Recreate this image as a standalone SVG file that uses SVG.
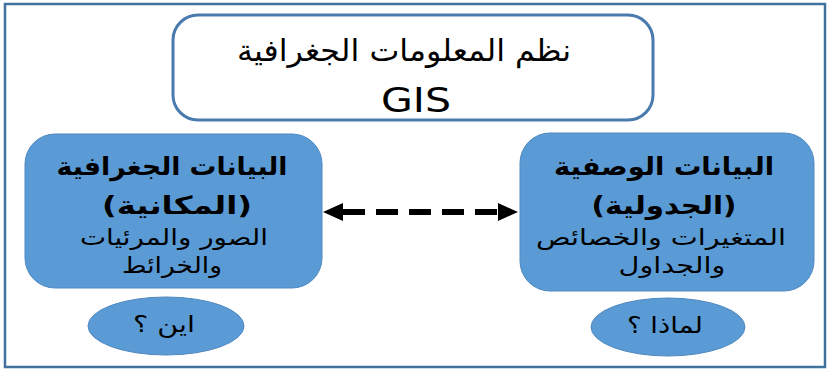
<svg xmlns="http://www.w3.org/2000/svg" width="829" height="371" viewBox="0 0 829 371">
<style>
.ar{font-family:"DejaVu Sans","Noto Sans",sans-serif;fill:#000;text-anchor:middle;direction:rtl}
.b{font-weight:bold}
.shape{fill:#5B9BD5;stroke:#5088C0;stroke-width:1}
</style>
<defs>
<marker id="ah" viewBox="0 0 20 18" refX="10" refY="9" markerWidth="20" markerHeight="18" orient="auto-start-reverse" markerUnits="userSpaceOnUse">
<path d="M0,0 L20,9 L0,18 z" fill="#000"/>
</marker>
</defs>
<rect x="0" y="0" width="829" height="371" fill="#fff"/>
<rect x="5" y="4" width="820" height="363" fill="none" stroke="#41719C" stroke-width="2.5"/>
<g id="title">
<rect x="173" y="15" width="480" height="105" rx="25" ry="25" fill="#fff" stroke="#4A7AAE" stroke-width="3"/>
<text class="ar" x="404" y="61" font-size="30" textLength="334" lengthAdjust="spacingAndGlyphs">نظم المعلومات الجغرافية</text>
<text x="416" y="112" font-size="34" font-family="DejaVu Sans, sans-serif" text-anchor="middle" textLength="70" lengthAdjust="spacingAndGlyphs">GIS</text>
</g>
<g id="spatial">
<rect class="shape" x="25" y="134" width="297" height="154" rx="30" ry="30"/>
<text class="ar b" x="172" y="175" font-size="25" textLength="231" lengthAdjust="spacingAndGlyphs">البيانات الجغرافية</text>
<text class="ar b" x="177" y="214" font-size="25" textLength="150" lengthAdjust="spacingAndGlyphs">(المكانية)</text>
<text class="ar" x="174" y="245" font-size="22" textLength="188" lengthAdjust="spacingAndGlyphs">الصور والمرئيات</text>
<text class="ar" x="172" y="273" font-size="22" textLength="100" lengthAdjust="spacingAndGlyphs">والخرائط</text>
</g>
<g id="attribute">
<rect class="shape" x="520" y="133" width="294" height="158" rx="30" ry="30"/>
<text class="ar b" x="664" y="175" font-size="25" textLength="220" lengthAdjust="spacingAndGlyphs">البيانات الوصفية</text>
<text class="ar b" x="664" y="214" font-size="25" textLength="145" lengthAdjust="spacingAndGlyphs">(الجدولية)</text>
<text class="ar" x="661" y="245" font-size="22" textLength="250" lengthAdjust="spacingAndGlyphs">المتغيرات والخصائص</text>
<text class="ar" x="672" y="273" font-size="22" textLength="107" lengthAdjust="spacingAndGlyphs">والجداول</text>
</g>
<g id="where">
<ellipse class="shape" cx="166" cy="326" rx="78" ry="29"/>
<text class="ar" x="164" y="332" font-size="23" textLength="62" lengthAdjust="spacingAndGlyphs">اين ؟</text>
</g>
<g id="why">
<ellipse class="shape" cx="668" cy="327" rx="77" ry="29"/>
<text class="ar" x="665" y="333" font-size="23" textLength="76" lengthAdjust="spacingAndGlyphs">لماذا ؟</text>
</g>
<g id="connectors">
<line x1="333" y1="212" x2="508" y2="212" stroke="#000" stroke-width="6" stroke-dasharray="22 11" stroke-dashoffset="23" marker-start="url(#ah)" marker-end="url(#ah)"/>
</g>
</svg>
